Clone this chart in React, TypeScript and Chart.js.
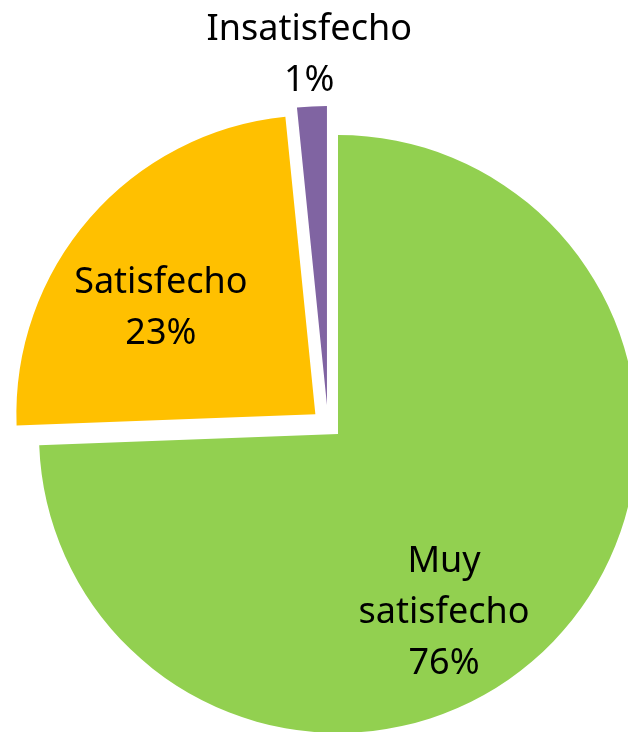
import React, { useEffect, useRef } from "react";
import { Chart, registerables } from "chart.js";

Chart.register(...registerables);

// ---- data ----
const categories = ["Muy satisfecho", "Satisfecho", "Insatisfecho"];
const sliceShares = [74.4, 24.0, 1.6];
// percentage texts printed on the chart
const percentLabels = ["76%", "23%", "1%"];
// how each category name is broken into lines
const labelLines = [["Muy", "satisfecho"], ["Satisfecho"], ["Insatisfecho"]];

// ---- styles ----
const sliceColors = ["#92D050", "#FFC000", "#8064A2"];
const explodeDistance = [0, 30, 31];
const explodeAngleAdjustDeg = [0, 0, -18];
const labelRadiusFactor = [0.687, 0.631, 1.179];
const labelAngleAdjustDeg = [15, -6, 0];
const FONT_SIZE = 36;
const LINE_PITCH = 51;
const CAP_HALF = 13;
const FONT_FAMILY = "'Noto Sans', 'Open Sans', sans-serif";

const deg = Math.PI / 180;

const explodePlugin = {
  id: "explodeAndLabels",
  beforeDatasetsDraw(chart: any) {
    const ctx = chart.ctx;
    const meta = chart.getDatasetMeta(0);
    meta.data.forEach((arc: any, i: number) => {
      const mid = (arc.startAngle + arc.endAngle) / 2 + explodeAngleAdjustDeg[i] * deg;
      const d = explodeDistance[i];
      ctx.save();
      ctx.translate(Math.cos(mid) * d, Math.sin(mid) * d);
      arc.draw(ctx);
      ctx.restore();
    });
    return false;
  },
  afterDraw(chart: any) {
    const ctx = chart.ctx;
    const meta = chart.getDatasetMeta(0);
    meta.data.forEach((arc: any, i: number) => {
      const bis = (arc.startAngle + arc.endAngle) / 2;
      const em = bis + explodeAngleAdjustDeg[i] * deg;
      const vx = arc.x + Math.cos(em) * explodeDistance[i];
      const vy = arc.y + Math.sin(em) * explodeDistance[i];
      const la = bis + labelAngleAdjustDeg[i] * deg;
      const r = arc.outerRadius * labelRadiusFactor[i];
      const cx = vx + Math.cos(la) * r;
      const cy = vy + Math.sin(la) * r;
      const lines = [...labelLines[i], percentLabels[i]];
      ctx.save();
      ctx.fillStyle = "#000";
      ctx.font = `${FONT_SIZE}px ${FONT_FAMILY}`;
      ctx.textAlign = "center";
      ctx.textBaseline = "alphabetic";
      const n = lines.length;
      lines.forEach((t, k) => {
        const y = cy + (k - (n - 1) / 2) * LINE_PITCH + CAP_HALF;
        ctx.fillText(t, cx, y);
      });
      ctx.restore();
    });
  },
};

export default function App() {
  const ref = useRef<HTMLCanvasElement | null>(null);
  useEffect(() => {
    if (!ref.current) return;
    const chart = new Chart(ref.current, {
      type: "pie",
      data: {
        labels: categories,
        datasets: [
          {
            data: sliceShares,
            backgroundColor: sliceColors,
            borderWidth: 0,
            radius: 299,
          } as any,
        ],
      },
      options: {
        responsive: false,
        animation: false,
        layout: { padding: 0 },
        plugins: {
          legend: { display: false },
          tooltip: { enabled: false },
          title: { display: false },
        },
      },
      plugins: [explodePlugin],
    });
    return () => chart.destroy();
  }, []);
  return (
    <div
      style={{
        position: "fixed",
        left: 0,
        top: 0,
        width: 628,
        height: 732,
        overflow: "hidden",
        background: "#fff",
      }}
    >
      <canvas ref={ref} width={676} height={868} style={{ display: "block" }} />
    </div>
  );
}
